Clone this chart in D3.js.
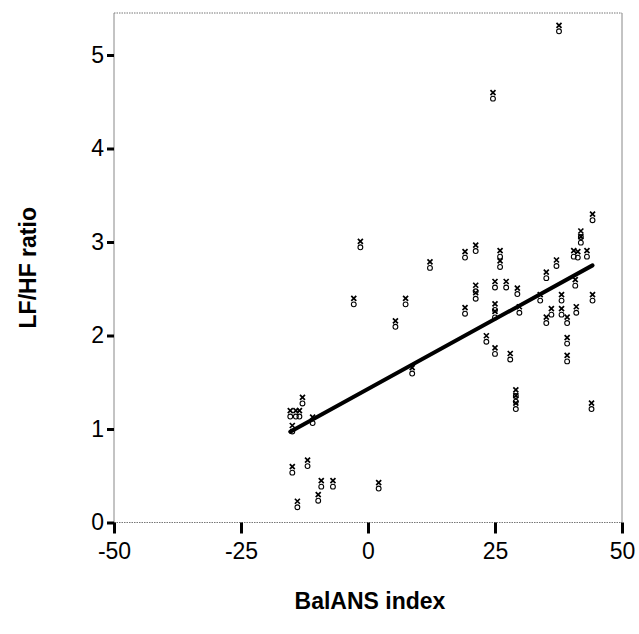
<!DOCTYPE html>
<html>
<head>
<meta charset="utf-8">
<script src="https://cdn.jsdelivr.net/npm/d3@7/dist/d3.min.js"></script>
<style>
  html, body { margin: 0; padding: 0; background: #fff; }
  svg { display: block; }
  text { font-family: "Liberation Sans", Arial, sans-serif; fill: #000; }
</style>
</head>
<body>
<svg id="chart" width="639" height="634"></svg>
<script>
// ---- data ----
const balans = [
  -1.5, -2.8, 7.4, 5.4, 12.2, 19.1, 21.2, 26.0, 26.0, 21.2, 21.2, 19.1, 25.0, 27.2, 29.4,
  25.0, 25.0, 29.8, 33.9, 35.1, 37.1, 35.1, 36.1, 38.1, 38.1, 39.2, 39.2, 39.2, 40.8, 41.0,
  40.5, 41.3, 41.9, 41.9, 43.1, 44.2, 44.2, 23.3, 25.0, 28.0,
  -15.3, -14.2, -13.5, -12.9, -14.9, -10.9, 8.7, -14.9, -11.9, -9.2, -6.9, -9.8, -13.9, 2.1,
  29.1, 29.1, 29.1, 44.0, 37.6, 24.6
];
const lfhf = [
  2.97, 2.36, 2.36, 2.12, 2.75, 2.86, 2.93, 2.87, 2.76, 2.42, 2.50, 2.26, 2.54, 2.54, 2.47,
  2.22, 2.30, 2.27, 2.40, 2.64, 2.77, 2.16, 2.25, 2.40, 2.25, 2.16, 1.94, 1.75, 2.56, 2.27,
  2.87, 2.86, 3.02, 3.08, 2.87, 3.26, 2.40, 1.96, 1.83, 1.77,
  1.16, 1.16, 1.16, 1.30, 1.00, 1.09, 1.62, 0.56, 0.63, 0.41, 0.41, 0.26, 0.19, 0.39,
  1.38, 1.32, 1.24, 1.24, 5.28, 4.56
];
const fitX = [-15.3, 44.2];
const fitY = [0.97, 2.75];
const xTicks = [-50, -25, 0, 25, 50];
const yTicks = [0, 1, 2, 3, 4, 5];
const xTitle = "BalANS index";
const yTitle = "LF/HF ratio";

// ---- layout ----
const svg = d3.select("#chart");
const pl = 114, pr = 622, pt = 13, pb = 522.5;
const x = d3.scaleLinear().domain([-50, 50]).range([pl, pr]);
const y = d3.scaleLinear().domain([0, 5]).range([pb, 55]);
const fmt = d => String(d); // plain hyphen for negatives

// frame
svg.append("line").attr("x1", pl).attr("x2", pr).attr("y1", pt).attr("y2", pt)
  .attr("stroke", "#777").attr("stroke-width", 1).attr("stroke-dasharray", "1.5,1");
svg.append("line").attr("x1", pl).attr("x2", pr).attr("y1", pb).attr("y2", pb)
  .attr("stroke", "#777").attr("stroke-width", 1).attr("stroke-dasharray", "1.5,1");
svg.append("line").attr("x1", pl).attr("x2", pl).attr("y1", pt).attr("y2", pb)
  .attr("stroke", "#888").attr("stroke-width", 1);
svg.append("line").attr("x1", pr).attr("x2", pr).attr("y1", pt).attr("y2", pb)
  .attr("stroke", "#888").attr("stroke-width", 1);

// axes
const xAxis = d3.axisBottom(x).tickValues(xTicks).tickSize(11).tickPadding(9).tickFormat(fmt);
const gx = svg.append("g").attr("transform", `translate(0,${pb})`).call(xAxis);
gx.select(".domain").remove();
gx.selectAll(".tick line").attr("stroke", "#000").attr("stroke-width", 3);
gx.selectAll(".tick text").attr("font-size", 23).attr("font-family", "Liberation Sans, Arial, sans-serif");

const yAxis = d3.axisLeft(y).tickValues(yTicks).tickSize(7).tickPadding(3).tickFormat(fmt);
const gy = svg.append("g").attr("transform", `translate(${pl},0)`).call(yAxis);
gy.select(".domain").remove();
gy.selectAll(".tick line").attr("stroke", "#000").attr("stroke-width", 3);
gy.selectAll(".tick text").attr("font-size", 23).attr("font-family", "Liberation Sans, Arial, sans-serif");

// titles
svg.append("text").attr("x", 370).attr("y", 609)
  .attr("text-anchor", "middle").attr("font-weight", "bold").attr("font-size", 23).text(xTitle);
svg.append("text").attr("transform", `translate(36,${(pt + pb) / 2}) rotate(-90)`)
  .attr("text-anchor", "middle").attr("font-weight", "bold").attr("font-size", 23).text(yTitle);

// regression line
const fit = fitX.map((v, i) => [v, fitY[i]]);
svg.append("path").datum(fit)
  .attr("d", d3.line().x(d => x(d[0])).y(d => y(d[1])))
  .attr("stroke", "#000").attr("stroke-width", 4).attr("fill", "none").attr("stroke-linecap", "round");

// markers: "x" above "o"
const pts = balans.map((v, i) => [v, lfhf[i]]);
const mk = svg.append("g").selectAll("g").data(pts).join("g")
  .attr("transform", d => `translate(${x(d[0])},${y(d[1])})`);
mk.append("path").attr("d", "M-2.5,-6 L2.5,-1 M2.5,-6 L-2.5,-1")
  .attr("stroke", "#000").attr("stroke-width", 1.7).attr("fill", "none");
mk.append("circle").attr("cx", 0).attr("cy", 2.5).attr("r", 2.4)
  .attr("stroke", "#000").attr("stroke-width", 1.1).attr("fill", "none");
</script>
</body>
</html>
